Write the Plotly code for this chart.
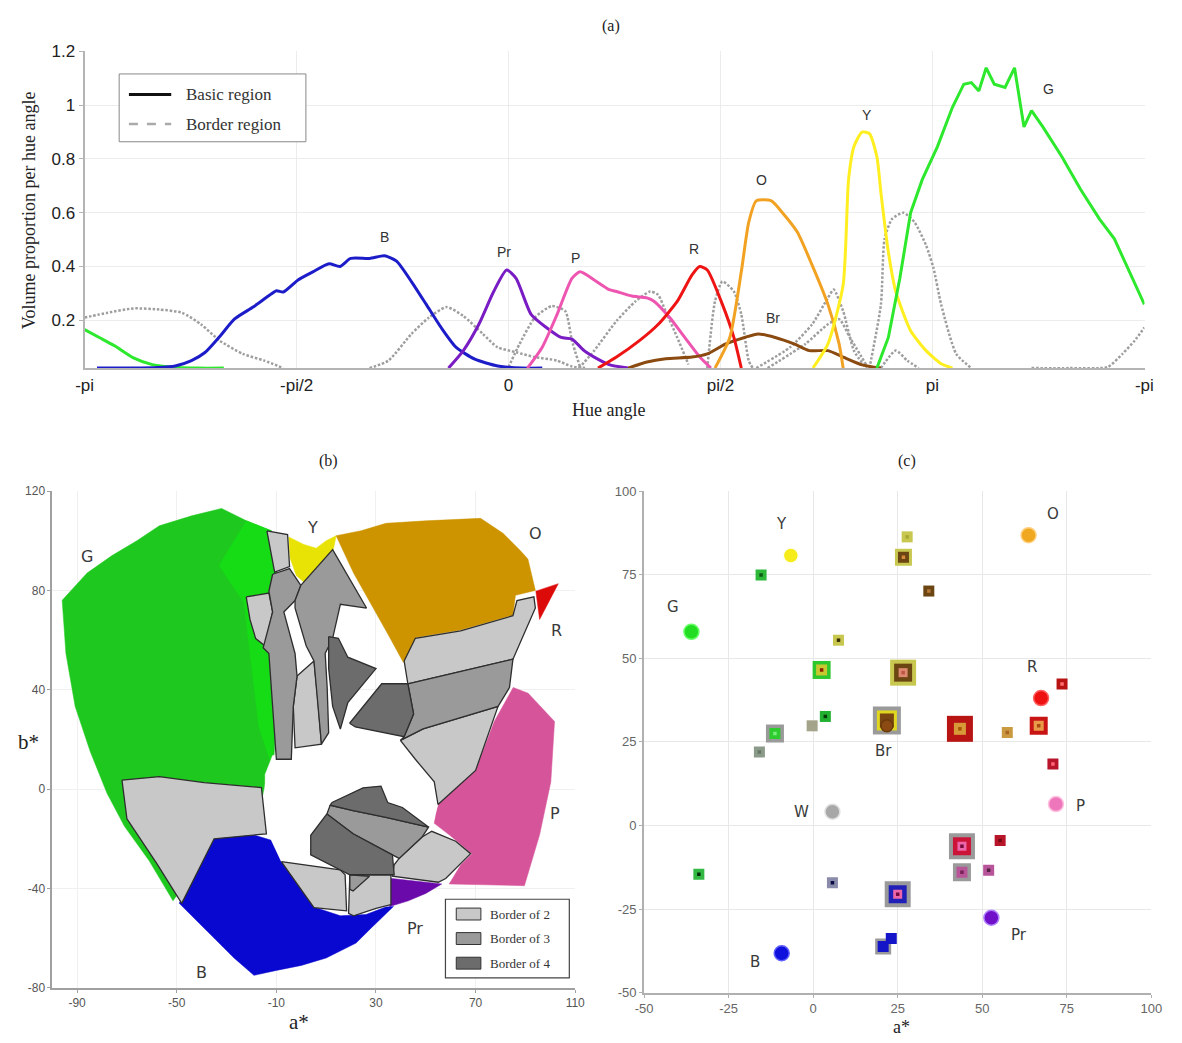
import numpy as np
import plotly.graph_objects as go

PI = np.pi

# ---------------- Panel (a): volume proportion per hue angle ----------------
hue_ticks = [-PI, -PI / 2, 0, PI / 2, PI, 1.5 * PI]
hue_tick_labels = ["-pi", "-pi/2", "0", "pi/2", "pi", "-pi"]
vol_ticks = [0.2, 0.4, 0.6, 0.8, 1.0, 1.2]
vol_tick_labels = ["0.2", "0.4", "0.6", "0.8", "1", "1.2"]

green_left_theta = [-PI, -3.03, -2.92, -2.78, -2.64, -2.45, -2.3, -2.11]
green_left_vol = [0.165, 0.135, 0.105, 0.06, 0.035, 0.024, 0.022, 0.022]

blue_theta = [-3.05, -2.8, -2.6, -2.47, -2.35, -2.25, -2.14, -2.03, -1.89, -1.78, -1.72, -1.67,
              -1.56, -1.45, -1.33, -1.25, -1.17, -1.03, -0.92, -0.83, -0.72, -0.61, -0.50,
              -0.39, -0.25, -0.08, 0.1, 0.25]
blue_vol = [0.022, 0.022, 0.024, 0.03, 0.05, 0.08, 0.14, 0.205, 0.25, 0.29, 0.31, 0.305,
            0.35, 0.38, 0.41, 0.40, 0.43, 0.43, 0.44, 0.42, 0.344, 0.259, 0.173,
            0.10, 0.055, 0.03, 0.022, 0.022]

purple_theta = [-0.445, -0.335, -0.22, -0.11, -0.014, 0.056, 0.167, 0.28, 0.39, 0.47, 0.56,
                0.635, 0.746, 0.886]
purple_vol = [0.022, 0.087, 0.185, 0.307, 0.387, 0.356, 0.222, 0.173, 0.136, 0.13, 0.087,
              0.063, 0.035, 0.022]

pink_theta = [0.14, 0.25, 0.36, 0.47, 0.53, 0.635, 0.746, 0.80, 0.914, 1.026, 1.08, 1.194,
              1.306, 1.418, 1.50]
pink_vol = [0.022, 0.10, 0.222, 0.356, 0.38, 0.35, 0.314, 0.307, 0.29, 0.283, 0.27, 0.21,
            0.136, 0.063, 0.022]

red_theta = [0.663, 0.80, 0.97, 1.11, 1.25, 1.36, 1.417, 1.473, 1.585, 1.67, 1.725]
red_vol = [0.022, 0.063, 0.124, 0.185, 0.27, 0.369, 0.40, 0.387, 0.259, 0.136, 0.022]

brown_theta = [0.886, 1.026, 1.165, 1.36, 1.473, 1.61, 1.75, 1.85, 1.976, 2.116, 2.23,
               2.367, 2.48, 2.62, 2.76]
brown_vol = [0.022, 0.045, 0.057, 0.063, 0.075, 0.112, 0.136, 0.149, 0.136, 0.112, 0.087,
             0.087, 0.063, 0.034, 0.022]

orange_theta = [1.53, 1.64, 1.725, 1.78, 1.836, 1.948, 2.03, 2.14, 2.25, 2.367, 2.45, 2.48]
orange_vol = [0.022, 0.136, 0.38, 0.564, 0.644, 0.644, 0.60, 0.528, 0.405, 0.259, 0.112, 0.022]

yellow_theta = [2.256, 2.367, 2.48, 2.52, 2.56, 2.62, 2.675, 2.73, 2.76, 2.815, 2.87, 2.98,
                3.094, 3.206, 3.29]
yellow_vol = [0.022, 0.112, 0.332, 0.723, 0.846, 0.90, 0.894, 0.808, 0.674, 0.454, 0.307,
              0.161, 0.087, 0.038, 0.022]

green_theta = [2.73, 2.815, 2.9, 2.98, 3.066, 3.178, 3.29, 3.374, 3.43, 3.486, 3.54, 3.6,
               3.68, 3.75, 3.82, 3.876, 3.96, 4.1, 4.24, 4.38, 4.49, 4.6, 1.5 * PI]
green_vol = [0.022, 0.136, 0.356, 0.60, 0.723, 0.845, 0.992, 1.078, 1.084, 1.053, 1.139,
             1.078, 1.066, 1.139, 0.919, 0.98, 0.919, 0.809, 0.686, 0.576, 0.503, 0.38, 0.259]

border1_theta = [-PI, -2.97, -2.78, -2.59, -2.42, -2.28, -2.14, -1.97, -1.81, -1.67]
border1_vol = [0.21, 0.228, 0.244, 0.24, 0.228, 0.185, 0.124, 0.075, 0.05, 0.022]
border2_theta = [-1.03, -0.89, -0.72, -0.59, -0.46, -0.335, -0.19, -0.083, 0.056, 0.195,
                 0.36, 0.47, 0.58]
border2_vol = [0.022, 0.05, 0.149, 0.21, 0.249, 0.216, 0.149, 0.10, 0.081, 0.063, 0.05,
               0.028, 0.022]
border3_theta = [0.0, 0.08, 0.195, 0.32, 0.42, 0.47, 0.53]
border3_vol = [0.026, 0.11, 0.21, 0.253, 0.234, 0.124, 0.026]
border4_theta = [0.523, 0.635, 0.80, 0.94, 1.05, 1.108, 1.164, 1.25, 1.334]
border4_vol = [0.022, 0.087, 0.197, 0.27, 0.307, 0.295, 0.234, 0.136, 0.035]
border5_theta = [1.473, 1.53, 1.585, 1.67, 1.725, 1.78, 1.81]
border5_vol = [0.022, 0.27, 0.344, 0.307, 0.222, 0.05, 0.022]
border6_theta = [1.836, 2.088, 2.25, 2.367, 2.41, 2.48, 2.56, 2.65]
border6_vol = [0.022, 0.10, 0.185, 0.283, 0.314, 0.234, 0.087, 0.022]
border7_theta = [1.92, 2.2, 2.367, 2.45, 2.53, 2.65]
border7_vol = [0.022, 0.112, 0.185, 0.204, 0.136, 0.035]
border8_theta = [2.675, 2.76, 2.787, 2.843, 2.927, 3.01, 3.094, 3.15, 3.206, 3.318, 3.43]
border8_vol = [0.022, 0.259, 0.503, 0.577, 0.60, 0.564, 0.479, 0.393, 0.259, 0.075, 0.022]
border9_theta = [2.76, 2.87, 2.955, 3.04]
border9_vol = [0.022, 0.087, 0.05, 0.022]
border10_theta = [3.876, 4.16, 4.44, 4.55, 4.64, 1.5 * PI]
border10_vol = [0.022, 0.022, 0.026, 0.075, 0.124, 0.173]

curve_label_text = ["B", "Pr", "P", "R", "O", "Y", "G", "Br"]
curve_label_theta = [-0.92, -0.03, 0.50, 1.375, 1.878, 2.653, 4.0, 1.962]
curve_label_vol = [0.51, 0.455, 0.43, 0.466, 0.723, 0.962, 1.06, 0.21]

# ---------------- Panel (b): regions in the a*b* plane ----------------
a_ticks_b = [-90, -50, -10, 30, 70, 110]
a_tick_labels_b = ["-90", "-50", "-10", "30", "70", "110"]
b_ticks_b = [-80, -40, 0, 40, 80, 120]
b_tick_labels_b = ["-80", "-40", "0", "40", "80", "120"]

region_G = [(-96, 76), (-86, 87), (-76, 94), (-66, 100), (-57, 106), (-44, 110), (-32, 113),
            (-22, 108), (-12, 104), (-10, 90), (-10, 60), (-10, 30), (-11, 12), (-14, 5),
            (-16, -5), (-40, -10), (-48, -40), (-51.5, -45), (-61, -29), (-71, -15),
            (-78, -1.7), (-84.7, 15), (-90.8, 33.3), (-94.5, 54.6)]
region_G_light = [(-33, 90), (-22, 108), (-12, 104), (-10, 90), (-10, 60), (-10, 30),
                  (-12, 10), (-17, 25), (-20, 50), (-23, 75)]
region_Y = [(-5, 101.5), (1, 98.5), (6, 97), (10, 100), (14, 102), (13, 97), (11, 92),
            (7, 81), (2, 82.5), (-2, 86), (-4.5, 93)]
region_O = [(14, 102), (24, 104), (34, 107), (50, 108), (72, 109), (81, 103), (88, 96),
            (91, 92.6), (94, 80), (86, 78), (85, 70), (64, 64), (46, 61), (41, 51),
            (35, 62), (29, 72.5), (21, 87)]
region_R = [(94.2, 79.7), (103.2, 82.7), (95.7, 68.3)]
region_P = [(85.1, 40.9), (91.1, 38.6), (101.7, 27.2), (100.2, 2.9), (95.7, -18.4),
            (89.6, -38.9), (59.4, -38.2), (64, -30.6), (68.5, -26), (59.4, -18.4),
            (53.4, -13.8), (54.9, -5.5), (70, 7.5), (77.5, 27.2)]
region_Pr = [(35.5, -35.9), (56.4, -38.2), (50, -42), (43, -45), (35.5, -47.3)]
region_B = [(-35, -20), (-23.6, -18.4), (-18.6, -18.6), (-12, -20.6), (-8, -29.3),
            (5, -47.5), (15.7, -51), (26, -50.5), (33.9, -47.5), (37, -47.3), (28, -56),
            (22, -62), (10, -68), (0, -71), (-10, -73), (-19, -75), (-27, -68), (-36, -59),
            (-45, -50), (-49, -46), (-47, -42), (-42, -32)]
white_core = [(-14.5, 5.9), (-11.5, 13.5), (-4, 14.5), (-2.5, 16.6), (8, 18), (15.7, 22.7),
              (21.7, 25), (33.8, 22.7), (39.8, 19.6), (45.8, 12), (53.4, 2.9), (54.9, -6.2),
              (53, -13), (51.1, -15.3), (40.6, -7.4), (34.7, -5.4), (32, 1.2), (24.8, 0.5),
              (12.3, -5.4), (10.3, -10), (3.8, -18.6), (3.8, -26.5), (-8, -29.2),
              (-12, -20.6), (-14.5, -9.3)]

light_regions = [
    [(-72, 3.6), (-57, 5), (-39, 2.6), (-16, 0.6), (-14, -18), (-35, -20), (-48, -46),
     (-58, -30), (-70, -12)],
    [(39.3, -27.9), (48.5, -19.3), (52.4, -17), (57, -19), (62, -21), (68, -26), (63, -31),
     (58, -36), (55, -37.5), (36.6, -35.1), (37.3, -30.5)],
    [(-8, -29.2), (15.6, -32.5), (17.6, -34.5), (18.2, -49), (5.1, -47.7)],
    [(19.5, -34.5), (36, -34.5), (36, -46.5), (30, -48), (21, -51), (19, -50)],
    [(-13.8, 104), (-5.5, 102.5), (-4.7, 89.6), (-10.7, 87.4)],
    [(-22.1, 77.4), (-13, 78.9), (-11.5, 71.3), (-14.5, 57.6), (-18.3, 60.6), (-20.6, 68.3)],
    [(-1.7, 45.5), (5.1, 51.6), (6.6, 36.4), (8.1, 18.1), (-2.5, 16.6), (-3.2, 33.3)],
    [(41.3, 51.6), (45.8, 60.7), (64, 63.7), (85, 69.8), (86.6, 75.9), (93.4, 77.4),
     (94, 72.9), (85, 52.3), (42.8, 42.4)],
    [(39.8, 19.6), (48.9, 24.2), (79, 33.3), (70, 7.5), (54.9, -6.2), (53.4, 2.9), (45.8, 12)],
]
mid_regions = [
    [(11.6, -6.5), (20.8, -8.7), (34, -11.4), (51.1, -15.3), (48.5, -19.3), (39.3, -27.9),
     (36.6, -26.5), (20.8, -18), (10.3, -10)],
    [(-11.5, 86.5), (-4.7, 88.8), (-0.2, 82), (-2.5, 75.9), (-7, 71.3), (-2.5, 54.6),
     (-1.7, 45.5), (-3.2, 33.3), (-4, 12), (-10, 12), (-11.5, 33.3), (-13, 54.6),
     (-15.3, 56.9), (-11.5, 71.3), (-13, 79.7)],
    [(-0.2, 82), (12.6, 96.4), (26.2, 72.9), (15.7, 74.4), (12.6, 60.7), (9.6, 54.6),
     (10.4, 41), (11, 22.7), (8.1, 18.1), (6.6, 36.4), (5.1, 51.6), (2, 57.6), (-2.5, 72.9),
     (-2.5, 75.9)],
    [(42.8, 42.4), (85, 52.3), (83.6, 40.9), (79, 33.3), (48.9, 24.2), (39.8, 19.6),
     (41.3, 21.1), (45.1, 30.3)],
    [(19.5, -34.5), (27.4, -35.1), (20.8, -41), (19.5, -40.4)],
]
dark_regions = [
    [(12.3, -5.4), (24.8, 0.5), (32, 1.2), (34.7, -5.4), (40.6, -7.4), (51.1, -15.3),
     (34, -11.4), (20.8, -8.7), (11.6, -6.5)],
    [(10.3, -10), (20.8, -18), (36.6, -26.5), (37.3, -34.5), (19.5, -34.5), (10.3, -29.8),
     (3.8, -26.5), (3.8, -18.6)],
    [(11, 61.4), (14.9, 60.7), (18.7, 53.1), (30, 48.5), (18.7, 34.8), (15.7, 24.2),
     (12.6, 33.3), (11, 48.5)],
    [(19.4, 26.5), (32.3, 42.4), (42.8, 42.4), (45.1, 30.3), (41.3, 21.1), (33.8, 22.7),
     (21.7, 25)],
]

region_label_text = ["G", "Y", "O", "R", "P", "Pr", "B"]
region_label_a = [-86, 4.5, 94, 102.5, 101.7, 45.5, -40]
region_label_b = [93.5, 105.5, 103, 64, -10, -56, -74]
border_legend_text = ["Border of 2", "Border of 3", "Border of 4"]

# ---------------- Panel (c): centroids ----------------
ab_ticks_c = [-50, -25, 0, 25, 50, 75, 100]
ab_tick_labels_c = ["-50", "-25", "0", "25", "50", "75", "100"]

basic_names = ["Y", "G", "O", "R", "P", "Pr", "B", "W", "Br"]
basic_a = [-6.6, -36.0, 63.7, 67.4, 71.8, 52.7, -9.3, 5.7, 21.8]
basic_b = [80.7, 57.9, 86.8, 38.1, 6.4, -27.6, -38.2, 4.1, 29.8]
basic_fill = ["#f5ec1a", "#22dd22", "#f0a820", "#ee1111", "#ee77bb", "#7010c8", "#1010dd",
              "#a8a8a8", "#8b4a12"]
basic_edge = ["#fffff0", "#66ff66", "#ffd080", "#ff6060", "#ffc0e0", "#b080ff", "#6060ff",
              "#e0e0e0", "#6b3a0a"]
basic_size = [15, 15, 15, 15, 15, 15, 15, 15, 12]
basic_label_a = [-9.3, -41.4, 70.9, 64.6, 79.1, 60.8, -17.3, -3.3, 20.9]
basic_label_b = [90.2, 65.2, 93.0, 47.3, 5.8, -32.7, -40.7, 4.1, 22.2]

border_a = [-15.4, 27.8, 26.7, 34.2, 7.5, 2.5, 26.6, 3.6, -0.3, -11.3, -15.9, 21.8, 43.4,
            57.4, 66.7, 73.6, 70.9, 55.3, 44.0, 44.0, 51.9, -33.8, 5.7, 25.0, 20.7, 23.1]
border_b = [74.9, 86.3, 80.2, 70.1, 55.4, 46.5, 45.7, 32.6, 29.8, 27.5, 22.0, 31.4, 28.9,
            27.8, 29.8, 42.3, 18.4, -4.5, -6.2, -14.0, -13.4, -14.6, -17.1, -20.6, -36.2, -33.8]
outer_color = ["#2db83a", "#c8c850", "#c8c850", "#6b4512", "#c8c850", "#2ec82e", "#c8c850",
               "#22b030", "#a3a48a", "#9a9a9a", "#8c9a8a", "#9a9a9a", "#b81414", "#c99a40",
               "#c81414", "#b81414", "#b8142a", "#b8142a", "#9a9a9a", "#9a9a9a", "#b8559a",
               "#33b844", "#8a8aaa", "#9a9a9a", "#9a9a9a", "#1414c8"]
outer_size = [11, 11, 17, 11, 11, 18, 26, 11, 11, 18, 11, 28, 26, 11, 18, 11, 11, 11, 26,
              18, 11, 11, 11, 26, 16, 11]
mid_color = [None, None, "#6b4512", None, None, "#c8c830", "#6b4512", None, None, "#2ecc2e",
             None, "#e0d820", "#d89a38", None, "#e89a48", None, None, None, "#cc1438",
             "#b85598", None, None, None, "#2020b8", "#1414c8", None]
mid_size = [0, 0, 11, 0, 0, 11, 18, 0, 0, 11, 0, 20, 12, 0, 10, 0, 0, 0, 18, 11, 0, 0, 0,
            18, 11, 0]
inner_color = [None, None, None, None, None, None, "#dd8870", None, None, None, None,
               "#7a4510", None, None, None, None, None, None, "#ee66aa", None, None, None,
               None, "#ee66aa", None, None]
inner_size = [0, 0, 0, 0, 0, 0, 9, 0, 0, 0, 0, 14, 0, 0, 0, 0, 0, 0, 9, 0, 0, 0, 0, 9, 0, 0]
dot_color = ["#0e5a14", "#a8a830", "#d88a3a", "#b87a3a", "#3a3000", "#8a2000", "#bb5544",
             "#083a08", None, "#77ee77", "#667766", None, "#aa5500", "#aa6622", "#aa4a10",
             "#ff7070", "#ff6677", "#770a10", "#770a40", "#772255", "#552244", "#032e08",
             "#0a0a44", "#770a40", None, None]

# ---------------- Build figure ----------------
fig = go.Figure()

def curve(theta, vol, color, dash=None, width=3.0, shape="spline"):
    fig.add_trace(go.Scatter(x=theta, y=vol, mode="lines",
                             line=dict(color=color, width=width, dash=dash, shape=shape,
                                       smoothing=0.6),
                             hoverinfo="skip", showlegend=False, xaxis="x", yaxis="y"))

border_curves = [(border1_theta, border1_vol), (border2_theta, border2_vol),
                 (border3_theta, border3_vol), (border4_theta, border4_vol),
                 (border5_theta, border5_vol), (border6_theta, border6_vol),
                 (border7_theta, border7_vol), (border8_theta, border8_vol),
                 (border9_theta, border9_vol), (border10_theta, border10_vol)]
for th, v in border_curves:
    curve(th, v, "#9e9e9e", dash="2.5px,1.8px", width=2.5)

curve(green_left_theta, green_left_vol, "#2ee82e")
curve(blue_theta, blue_vol, "#1c1cc8")
curve(purple_theta, purple_vol, "#7a1cc4")
curve(pink_theta, pink_vol, "#ee55b0")
curve(brown_theta, brown_vol, "#8a4a10")
curve(red_theta, red_vol, "#ee1414")
curve(orange_theta, orange_vol, "#f2a222")
curve(yellow_theta, yellow_vol, "#ffee20")
curve(green_theta, green_vol, "#2ee82e", shape="linear")

for t, xv, yv in zip(curve_label_text, curve_label_theta, curve_label_vol):
    fig.add_annotation(x=xv, y=yv, xref="x", yref="y", text=t, showarrow=False,
                       font=dict(family="Liberation Sans", size=14, color="#333333"))

# panel (b) polygons
def poly(pts, fill, edge=None, lw=0.0):
    xs = [p[0] for p in pts] + [pts[0][0]]
    ys = [p[1] for p in pts] + [pts[0][1]]
    fig.add_trace(go.Scatter(x=xs, y=ys, mode="lines", fill="toself", fillcolor=fill,
                             line=dict(color=edge if edge else fill, width=lw if lw else 0.5),
                             hoverinfo="skip", showlegend=False, xaxis="x2", yaxis="y2"))

poly(region_G, "#1ec81e")
poly(region_G_light, "#16dc16")
poly(region_Y, "#e8e205")
poly(region_O, "#cd9400")
poly(region_R, "#dd0a0a")
poly(region_P, "#d6559a")
poly(region_Pr, "#6a0aaa")
poly(region_B, "#0808d0")
poly(white_core, "#ffffff")
for pts in light_regions:
    poly(pts, "#c8c8c8", "#2e2e2e", 1.3)
for pts in mid_regions:
    poly(pts, "#9a9a9a", "#2e2e2e", 1.3)
for pts in dark_regions:
    poly(pts, "#6c6c6c", "#2e2e2e", 1.3)

for t, xv, yv in zip(region_label_text, region_label_a, region_label_b):
    fig.add_annotation(x=xv, y=yv, xref="x2", yref="y2", text=t, showarrow=False,
                       font=dict(family="DejaVu Sans", size=16, color="#3a3a3a"))

# panel (c) markers
def layer(colors, sizes):
    xs, ys, cs, ss = [], [], [], []
    for xv, yv, c, s in zip(border_a, border_b, colors, sizes):
        if c is not None and s:
            xs.append(xv); ys.append(yv); cs.append(c); ss.append(s)
    fig.add_trace(go.Scatter(x=xs, y=ys, mode="markers", hoverinfo="skip", showlegend=False,
                             opacity=1,
                             marker=dict(symbol="square", color=cs, size=ss, opacity=1,
                                         line=dict(width=0)),
                             xaxis="x3", yaxis="y3"))

layer(outer_color, outer_size)
layer(mid_color, mid_size)
layer(inner_color, inner_size)
layer(dot_color, [3.5] * len(dot_color))

fig.add_trace(go.Scatter(x=basic_a, y=basic_b, mode="markers", hoverinfo="skip",
                         showlegend=False, opacity=1,
                         marker=dict(symbol="circle", color=basic_fill, size=basic_size,
                                     opacity=1, line=dict(color=basic_edge, width=1.5)),
                         xaxis="x3", yaxis="y3"))
for t, xv, yv in zip(basic_names, basic_label_a, basic_label_b):
    fig.add_annotation(x=xv, y=yv, xref="x3", yref="y3", text=t, showarrow=False,
                       font=dict(family="DejaVu Sans", size=15, color="#3a3a3a"))

# ---------------- Text, legends ----------------
serif = "Liberation Serif"
def ptext(x, y, text, size=17, angle=0, xanchor="center", family=serif, color="#222222"):
    fig.add_annotation(x=x, y=y, xref="paper", yref="paper", text=text, showarrow=False,
                       textangle=angle, xanchor=xanchor, yanchor="middle",
                       font=dict(family=family, size=size, color=color))

ptext(0.5178, 0.9837, "(a)", 16)
ptext(0.275, 0.559, "(b)", 16)
ptext(0.7724, 0.559, "(c)", 16)
ptext(0.516, 0.6088, "Hue angle", 18)
ptext(0.0169, 0.8035, "Volume proportion per hue angle", 18, angle=-90)
ptext(0.0169, 0.2857, "b*", 21)
ptext(0.2496, 0.0125, "a*", 21)
ptext(0.768, 0.0075, "a*", 18)

# legend (a)
fig.add_shape(type="rect", xref="paper", yref="paper", x0=0.0948, x1=0.2555, y0=0.8706,
              y1=0.9367, line=dict(color="#888888", width=1), fillcolor="white")
fig.add_shape(type="line", xref="paper", yref="paper", x0=0.1032, x1=0.1396, y0=0.9166,
              y1=0.9166, line=dict(color="#111111", width=3))
fig.add_shape(type="line", xref="paper", yref="paper", x0=0.1032, x1=0.1396, y0=0.8878,
              y1=0.8878, line=dict(color="#aaaaaa", width=2.5, dash="dash"))
ptext(0.1506, 0.9166, "Basic region", 17, xanchor="left", color="#333333")
ptext(0.1506, 0.8878, "Border region", 17, xanchor="left", color="#333333")

# legend (b)
fig.add_shape(type="rect", xref="paper", yref="paper", x0=0.3756, x1=0.4822, y0=0.0556,
              y1=0.1323, line=dict(color="#444444", width=1.2), fillcolor="white")
legend_fills = ["#c8c8c8", "#9a9a9a", "#6c6c6c"]
legend_rows = [0.1179, 0.0940, 0.0700]
for txt, fc, yc in zip(border_legend_text, legend_fills, legend_rows):
    fig.add_shape(type="rect", xref="paper", yref="paper", x0=0.3849, x1=0.4061,
                  y0=yc - 0.0058, y1=yc + 0.0058, line=dict(color="#333333", width=1),
                  fillcolor=fc)
    ptext(0.4125, yc, txt, 13, xanchor="left", color="#333333")

tick_font_a = dict(family="Liberation Sans", size=17, color="#222222")
tick_font_b = dict(family="Liberation Sans", size=12, color="#555555")
tick_font_c = dict(family="Liberation Sans", size=13, color="#666666")
fig.update_layout(
    width=1182, height=1043, margin=dict(l=0, r=0, t=0, b=0),
    paper_bgcolor="white", plot_bgcolor="white", showlegend=False,
    xaxis=dict(domain=[0.0651, 0.9772], range=[-PI, 1.5 * PI + 0.001], anchor="y",
               tickvals=hue_ticks, ticktext=hue_tick_labels, tickfont=tick_font_a,
               showgrid=True, gridcolor="#ececec", zeroline=False, showline=True,
               linecolor="#b4b4b4", linewidth=2, ticks="", mirror=False),
    yaxis=dict(domain=[0.650, 0.9588], range=[0.022, 1.2005], anchor="x",
               tickvals=vol_ticks, ticktext=vol_tick_labels, tickfont=tick_font_a,
               showgrid=True, gridcolor="#ececec", zeroline=False, showline=True,
               linecolor="#b4b4b4", linewidth=2, ticks="outside", ticklen=4,
               tickcolor="#b4b4b4"),
    xaxis2=dict(domain=[0.0372, 0.4873], range=[-100, 110.01], anchor="y2",
                tickvals=a_ticks_b, ticktext=a_tick_labels_b, tickfont=tick_font_b,
                showgrid=True, gridcolor="#f0f0f0", zeroline=False, showline=True,
                linecolor="#a0a0a0", linewidth=1.5, ticks="outside", ticklen=3,
                tickcolor="#a0a0a0"),
    yaxis2=dict(domain=[0.046, 0.5302], range=[-80.01, 120.01], anchor="x2",
                tickvals=b_ticks_b, ticktext=b_tick_labels_b, tickfont=tick_font_b,
                showgrid=True, gridcolor="#f0f0f0", zeroline=False, showline=True,
                linecolor="#a0a0a0", linewidth=1.5, ticks="outside", ticklen=3,
                tickcolor="#a0a0a0"),
    xaxis3=dict(domain=[0.5465, 0.9831], range=[-50.01, 100.01], anchor="y3",
                tickvals=ab_ticks_c, ticktext=ab_tick_labels_c, tickfont=tick_font_c,
                showgrid=True, gridcolor="#e8e8e8", zeroline=False, showline=True,
                linecolor="#b0b0b0", linewidth=2, ticks="outside", ticklen=3,
                tickcolor="#b0b0b0"),
    yaxis3=dict(domain=[0.0412, 0.5302], range=[-50.01, 100.01], anchor="x3",
                tickvals=ab_ticks_c, ticktext=ab_tick_labels_c, tickfont=tick_font_c,
                showgrid=True, gridcolor="#e8e8e8", zeroline=False, showline=True,
                linecolor="#b0b0b0", linewidth=2, ticks="outside", ticklen=3,
                tickcolor="#b0b0b0"),
)

fig.write_html("out.html")
